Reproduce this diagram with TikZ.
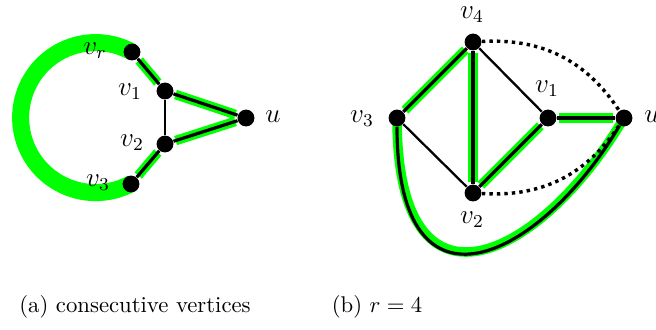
\documentclass[tikz,border=0pt]{standalone}
\usepackage{amsmath,amssymb}
\usepackage{tikz}
\usetikzlibrary{backgrounds}

\begin{document}
\begin{tikzpicture}[x=0.44pt, y=-0.44pt, every node/.style={font=\normalsize},
	vtx/.style={circle, fill=black, inner sep=0pt, minimum size=7.4pt},
	lbl/.style={font=\large},
	hl/.style={green, line width=4.2pt, shorten <=1pt, shorten >=1pt},
	edg/.style={line width=1.4pt},
	plain/.style={line width=1pt},
	dots/.style={line width=1.5pt, dash pattern=on 1.5pt off 1.8pt}]
	\useasboundingbox (0,0) rectangle (656,329);
	% (a) consecutive vertices
	\node[vtx] (avr) at (132,52) {};
	\node[vtx] (av1) at (165,91) {};
	\node[vtx] (av2) at (165,144) {};
	\node[vtx] (av3) at (131,184) {};
	\node[vtx] (au) at (246,118) {};
	\node[lbl] (lavr) at (95,51) {$v_r$};
	\node[lbl] (lav1) at (130,92) {$v_1$};
	\node[lbl] (lav2) at (132,143) {$v_2$};
	\node[lbl] (lav3) at (98,183) {$v_3$};
	\node[lbl] (lau) at (273,117) {$u$};
	% (b) r = 4
	\node[vtx] (bv4) at (473,42) {};
	\node[vtx] (bv3) at (397,118) {};
	\node[vtx] (bv2) at (473,193) {};
	\node[vtx] (bv1) at (548,118) {};
	\node[vtx] (bu) at (624,118) {};
	\node[lbl] (lbv4) at (472,15) {$v_4$};
	\node[lbl] (lbv3) at (362,119) {$v_3$};
	\node[lbl] (lbv1) at (547,89) {$v_1$};
	\node[lbl] (lbv2) at (472,220) {$v_2$};
	\node[lbl] (lbu) at (652,117) {$u$};
	\begin{scope}[on background layer]
		\draw[green, line width=7.5pt] (avr.center) arc[start angle=-61, end angle=-299, radius=75];
		\foreach \a/\b in {avr/av1, av1/au, au/av2, av2/av3, bv4/bv3, bv4/bv2, bv2/bv1, bv1/bu} {
			\draw[hl] (\a) -- (\b);
			\draw[edg] (\a) -- (\b);
		}
		\draw[plain] (av1) -- (av2);
		\draw[plain] (bv4) -- (bv1);
		\draw[plain] (bv3) -- (bv2);
		\draw[green, line width=4.2pt] (bv3.center) .. controls +(0,212) and +(-84,142) .. (bu.center);
		\draw[edg] (bv3) .. controls +(0,212) and +(-84,142) .. (bu);
		\draw[dots] (bv4) to[bend left=30] (bu);
		\draw[dots] (bv2) to[bend right=30] (bu);
	\end{scope}
	\node (capa) at (135,307) {(a) consecutive vertices};
	\node (capb) at (377,307) {(b) $r=4$};
\end{tikzpicture}
\end{document}
